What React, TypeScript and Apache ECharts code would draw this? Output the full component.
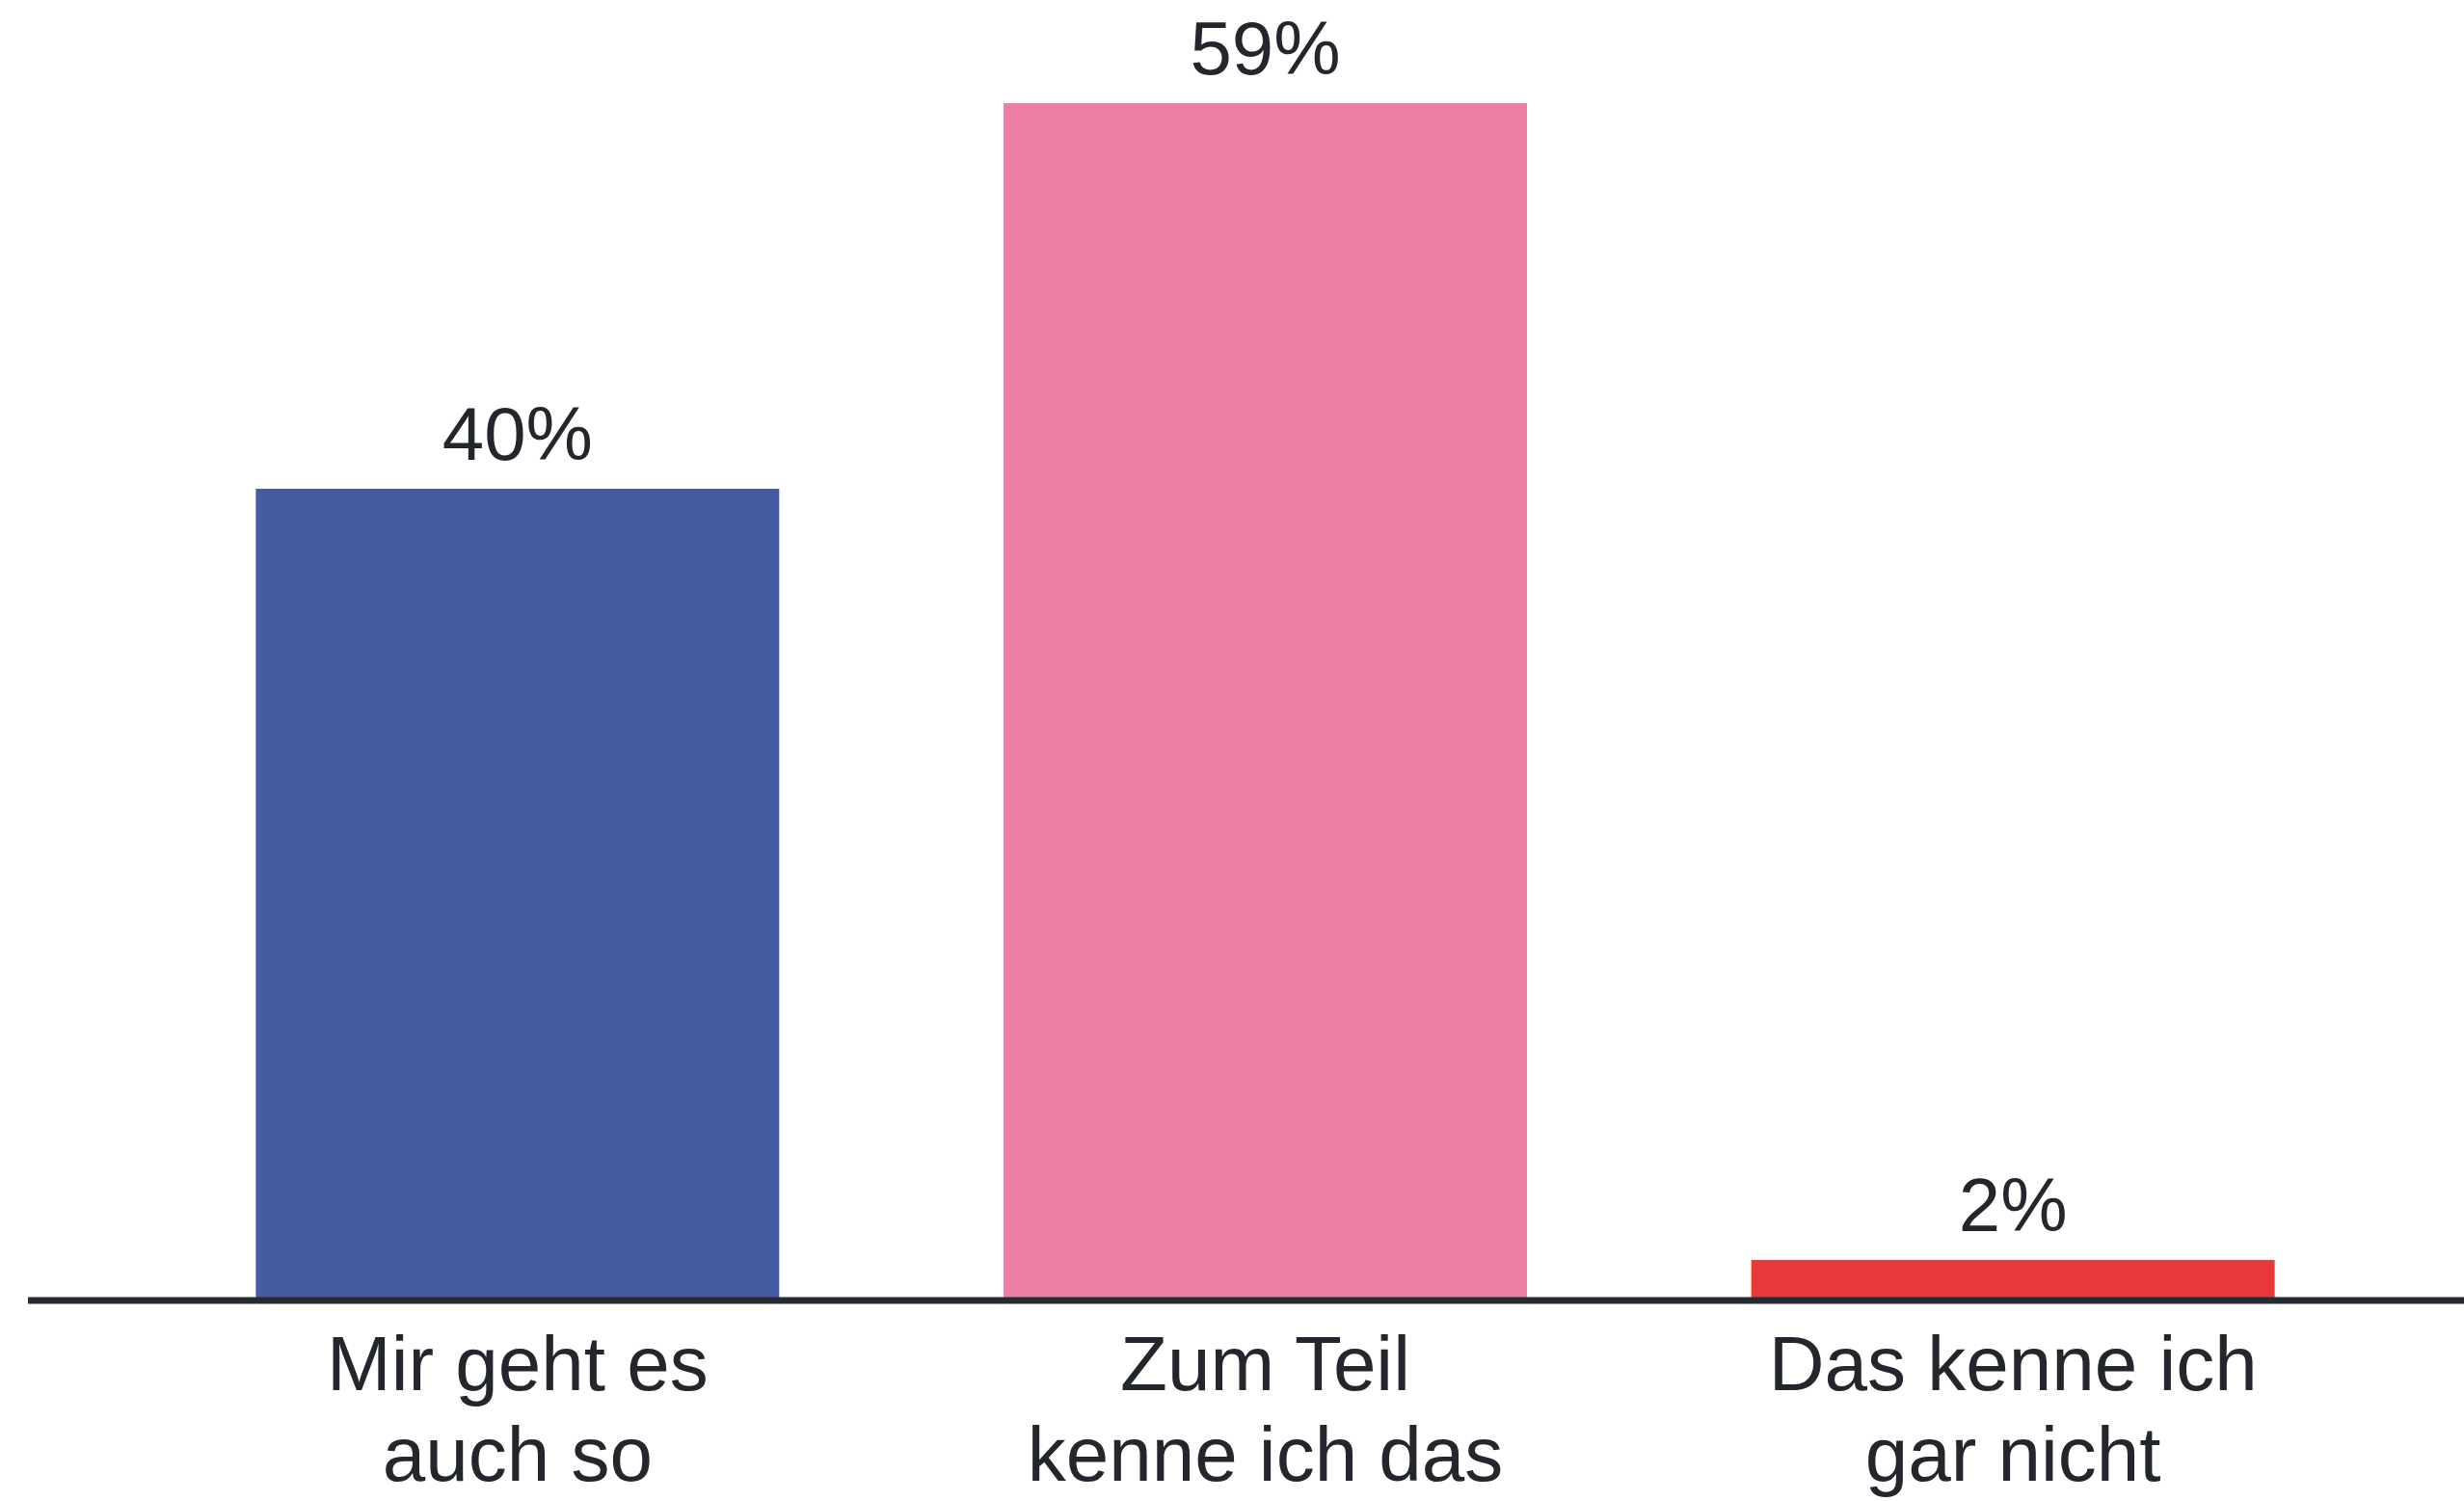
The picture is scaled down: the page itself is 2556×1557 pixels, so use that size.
import React, { useEffect, useRef } from "react";
import * as echarts from "echarts";

const categories = ["Mir geht es\nauch so", "Zum Teil\nkenne ich das", "Das kenne ich\ngar nicht"];
const values = [40, 59, 2];
const barColors = ["#475ba3", "#ee7ea3", "#e8393a"];

const W = 2556;
const H = 1557;
const GRID_BOTTOM = 208;

export default function App() {
  const ref = useRef<HTMLDivElement>(null);
  useEffect(() => {
    document.body.style.margin = "0";
    const chart = echarts.init(ref.current!, null, { renderer: "svg" });
    const textColor = "#23262d";
    chart.setOption({
      animation: false,
      backgroundColor: "#ffffff",
      grid: { left: 149, right: 80, top: 86, bottom: GRID_BOTTOM, containLabel: false },
      xAxis: {
        type: "category",
        data: categories,
        axisLine: { show: false },
        axisTick: { show: false },
        axisLabel: {
          color: textColor,
          fontFamily: "Liberation Sans",
          fontSize: 80,
          lineHeight: 94,
          margin: 18,
          interval: 0,
        },
      },
      yAxis: {
        type: "value",
        min: 0,
        max: 60,
        show: false,
        splitLine: { show: false },
      },
      series: [
        {
          type: "bar",
          data: values.map((v, i) => ({ value: v, itemStyle: { color: barColors[i] } })),
          barCategoryGap: "30%",
          label: {
            show: true,
            position: "top",
            distance: 18,
            formatter: "{c}%",
            color: textColor,
            fontFamily: "Liberation Sans",
            fontSize: 78,
          },
        },
      ],
      graphic: [
        {
          type: "line",
          shape: { x1: 29, y1: H - GRID_BOTTOM, x2: W, y2: H - GRID_BOTTOM },
          style: { stroke: "#272a30", lineWidth: 7 },
          z: 10,
        },
      ],
    });
    return () => chart.dispose();
  }, []);
  return <div ref={ref} style={{ width: W, height: H }} />;
}
